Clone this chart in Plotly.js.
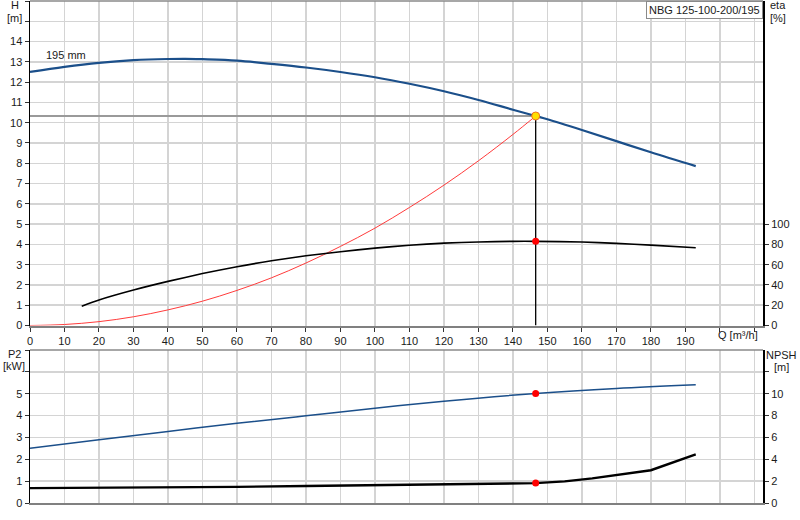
<!DOCTYPE html>
<html>
<head>
<meta charset="utf-8">
<script src="https://cdn.plot.ly/plotly-3.0.1.min.js"></script>
<style>
  html, body { margin: 0; padding: 0; background: #fff; }
  #chart { width: 800px; height: 520px; }
</style>
</head>
<body>
<div id="chart"></div>
<script>
// pump curve (H) at 195 mm impeller
var qHead = [0, 10, 20, 30, 40, 45, 50, 60, 70, 80, 90, 100, 110, 120, 130, 140, 146.6, 150, 160, 170, 180, 193];
var head = [12.5, 12.75, 12.95, 13.08, 13.14, 13.15, 13.13, 13.06, 12.9, 12.72, 12.5, 12.24, 11.92, 11.55, 11.12, 10.64, 10.33, 10.17, 9.64, 9.09, 8.54, 7.86];

// system curve
var qSys = [0, 10, 20, 30, 40, 50, 60, 70, 80, 90, 100, 110, 120, 130, 140, 146.6];
var hSys = [0, 0.05, 0.19, 0.43, 0.77, 1.2, 1.73, 2.35, 3.08, 3.9, 4.8, 5.82, 6.92, 8.12, 9.42, 10.33];

// efficiency
var qEta = [15, 20, 30, 40, 50, 60, 70, 80, 90, 100, 110, 120, 130, 140, 146.6, 160, 170, 180, 193];
var eta = [19, 25.2, 35, 43.5, 51.2, 58, 63.8, 68.7, 72.8, 76.3, 79.1, 81.2, 82.4, 83, 83, 82.3, 81, 79.3, 76.7];

// shaft power P2
var qP2 = [0, 20, 40, 60, 80, 100, 120, 146.6, 170, 193];
var p2 = [2.5, 2.89, 3.27, 3.65, 3.99, 4.34, 4.66, 5.01, 5.24, 5.41];

// NPSH
var qNpsh = [0, 20, 40, 60, 80, 100, 120, 146.6, 155, 163, 180, 193];
var npsh = [1.36, 1.38, 1.42, 1.48, 1.56, 1.64, 1.72, 1.82, 1.98, 2.25, 3.0, 4.45];

// duty point
var opQ = 146.6;
var opH = 10.33;
var opEta = 83;
var opP2 = 5.01;
var opNpsh = 1.82;

var qTicks = [0, 10, 20, 30, 40, 50, 60, 70, 80, 90, 100, 110, 120, 130, 140, 150, 160, 170, 180, 190, 200, 210];
var qTickText = ['0', '10', '20', '30', '40', '50', '60', '70', '80', '90', '100', '110', '120', '130', '140', '150', '160', '170', '180', '190', '', ''];
var hTicks = [0, 1, 2, 3, 4, 5, 6, 7, 8, 9, 10, 11, 12, 13, 14, 15, 16];
var hTickText = ['0', '1', '2', '3', '4', '5', '6', '7', '8', '9', '10', '11', '12', '13', '14', '', ''];
var etaTicks = [0, 20, 40, 60, 80, 100];
var p2Ticks = [0, 1, 2, 3, 4, 5, 6, 7];
var p2TickText = ['0', '1', '2', '3', '4', '5', '', ''];
var npshTicks = [0, 2, 4, 6, 8, 10, 12];
var npshTickText = ['0', '2', '4', '6', '8', '10', ''];

var blue = '#1b4f8a';
var tickFont = {family: 'Liberation Sans, Arial, sans-serif', size: 11, color: '#1a1a1a'};

// pixel helpers for annotations (plot area: x 30..763, y 1..503)
function px(p) { return (p - 30) / 733; }
function py(p) { return (503 - p) / 502; }

var data = [
  {x: [0, opQ], y: [opH, opH], xaxis: 'x', yaxis: 'y', mode: 'lines',
   line: {color: '#9a9a9a', width: 2}, hoverinfo: 'skip'},
  {x: [opQ, opQ], y: [0, opH], xaxis: 'x', yaxis: 'y', mode: 'lines',
   line: {color: '#000', width: 1.3}, hoverinfo: 'skip'},
  {x: qSys, y: hSys, xaxis: 'x', yaxis: 'y', mode: 'lines', line: {color: '#ff3b3b', width: 1, shape: 'spline'}},
  {x: qHead, y: head, xaxis: 'x', yaxis: 'y', mode: 'lines', line: {color: blue, width: 2.2, shape: 'spline'}},
  {x: qEta, y: eta, xaxis: 'x', yaxis: 'y2', mode: 'lines', line: {color: '#000', width: 1.6, shape: 'spline', smoothing: 0.7}},
  {x: [opQ], y: [opEta], xaxis: 'x', yaxis: 'y2', mode: 'markers',
   marker: {color: '#ff0000', size: 7}},
  {x: [opQ], y: [opH], xaxis: 'x', yaxis: 'y', mode: 'markers',
   marker: {color: '#ffe000', size: 8, line: {color: '#f07020', width: 1}}},
  {x: qP2, y: p2, xaxis: 'x2', yaxis: 'y3', mode: 'lines', line: {color: blue, width: 1.5, shape: 'spline'}},
  {x: qNpsh, y: npsh, xaxis: 'x2', yaxis: 'y4', mode: 'lines', line: {color: '#000', width: 2.4}},
  {x: [opQ], y: [opP2], xaxis: 'x2', yaxis: 'y3', mode: 'markers', marker: {color: '#ff0000', size: 7}},
  {x: [opQ], y: [opNpsh], xaxis: 'x2', yaxis: 'y4', mode: 'markers', marker: {color: '#ff0000', size: 7}}
];

var gridColor = '#d4d4d4';

var layout = {
  width: 800,
  height: 520,
  margin: {l: 30, r: 37, t: 1, b: 17},
  paper_bgcolor: '#fff',
  plot_bgcolor: '#fff',
  showlegend: false,
  hovermode: false,
  font: tickFont,
  xaxis: {
    range: [0, 212.5], anchor: 'y', tickmode: 'array', tickvals: qTicks, ticktext: qTickText,
    showgrid: true, gridcolor: gridColor, gridwidth: 1.5, zeroline: false,
    showline: true, linecolor: '#808080', linewidth: 2,
    ticks: 'outside', ticklen: 4, tickcolor: '#333', tickfont: tickFont
  },
  yaxis: {
    domain: [py(325.5), 1], range: [0, 16], tickmode: 'array', tickvals: hTicks, ticktext: hTickText,
    showgrid: true, gridcolor: gridColor, gridwidth: 1.5, zeroline: false,
    showline: true, linecolor: '#000', linewidth: 1.5,
    ticks: 'outside', ticklen: 4, tickcolor: '#333', tickfont: tickFont
  },
  yaxis2: {
    overlaying: 'y', side: 'right', anchor: 'x', range: [0, 320], tickmode: 'array', tickvals: etaTicks,
    showgrid: false, zeroline: false, showline: true, linecolor: '#000', linewidth: 2,
    ticks: 'outside', ticklen: 4, tickcolor: '#333', tickfont: tickFont
  },
  xaxis2: {
    range: [0, 212.5], anchor: 'y3', matches: 'x', tickmode: 'array', tickvals: qTicks,
    showticklabels: false, showgrid: true, gridcolor: gridColor, gridwidth: 1.5, zeroline: false,
    showline: true, linecolor: '#808080', linewidth: 2, ticks: ''
  },
  yaxis3: {
    domain: [0, py(350)], range: [0, 7], anchor: 'x2', tickmode: 'array', tickvals: p2Ticks, ticktext: p2TickText,
    showgrid: true, gridcolor: gridColor, gridwidth: 1.5, zeroline: false,
    showline: true, linecolor: '#000', linewidth: 1.5,
    ticks: 'outside', ticklen: 4, tickcolor: '#333', tickfont: tickFont
  },
  yaxis4: {
    overlaying: 'y3', side: 'right', anchor: 'x2', range: [0, 14], tickmode: 'array', tickvals: npshTicks, ticktext: npshTickText,
    showgrid: false, zeroline: false, showline: true, linecolor: '#000', linewidth: 2,
    ticks: 'outside', ticklen: 4, tickcolor: '#333', tickfont: tickFont
  },
  shapes: [
    {type: 'line', xref: 'paper', yref: 'paper', x0: 0, x1: 1, y0: 1, y1: 1, line: {color: '#8a8a8a', width: 1.5}},
    {type: 'line', xref: 'paper', yref: 'paper', x0: 0, x1: 1, y0: py(350), y1: py(350), line: {color: '#8a8a8a', width: 1.5}}
  ],
  annotations: [
    {text: 'H', xref: 'paper', yref: 'paper', x: px(15), y: py(5), xanchor: 'center', yanchor: 'middle', showarrow: false, font: {size: 11, color: '#1a1a1a'}},
    {text: '[m]', xref: 'paper', yref: 'paper', x: px(15), y: py(18), xanchor: 'center', yanchor: 'middle', showarrow: false, font: {size: 11, color: '#1a1a1a'}},
    {text: 'eta', xref: 'paper', yref: 'paper', x: px(768), y: py(5), xanchor: 'left', yanchor: 'middle', showarrow: false, font: {size: 11, color: '#1a1a1a'}},
    {text: '[%]', xref: 'paper', yref: 'paper', x: px(768), y: py(18), xanchor: 'left', yanchor: 'middle', showarrow: false, font: {size: 11, color: '#1a1a1a'}},
    {text: 'P2', xref: 'paper', yref: 'paper', x: px(14), y: py(354), xanchor: 'center', yanchor: 'middle', showarrow: false, font: {size: 11, color: '#1a1a1a'}},
    {text: '[kW]', xref: 'paper', yref: 'paper', x: px(14), y: py(366), xanchor: 'center', yanchor: 'middle', showarrow: false, font: {size: 11, color: '#1a1a1a'}},
    {text: 'NPSH', xref: 'paper', yref: 'paper', x: px(781), y: py(355), xanchor: 'center', yanchor: 'middle', showarrow: false, font: {size: 11, color: '#1a1a1a'}},
    {text: '[m]', xref: 'paper', yref: 'paper', x: px(781), y: py(367), xanchor: 'center', yanchor: 'middle', showarrow: false, font: {size: 11, color: '#1a1a1a'}},
    {text: 'Q [m³/h]', xref: 'paper', yref: 'paper', x: px(738), y: py(335), xanchor: 'center', yanchor: 'middle', showarrow: false, font: {size: 11, color: '#1a1a1a'}},
    {text: '195 mm', xref: 'x', yref: 'y', x: 10.5, y: 13.35, xanchor: 'center', yanchor: 'middle', showarrow: false, font: {size: 11, color: '#1a1a1a'}},
    {text: 'NBG 125-100-200/195', xref: 'paper', yref: 'paper', x: 1, y: 1, xanchor: 'right', yanchor: 'top', showarrow: false,
     bgcolor: '#fff', bordercolor: '#8a8a8a', borderwidth: 1, borderpad: 2, font: {size: 11, color: '#1a1a1a'}}
  ]
};

Plotly.newPlot('chart', data, layout, {staticPlot: true, displayModeBar: false});
</script>
</body>
</html>
